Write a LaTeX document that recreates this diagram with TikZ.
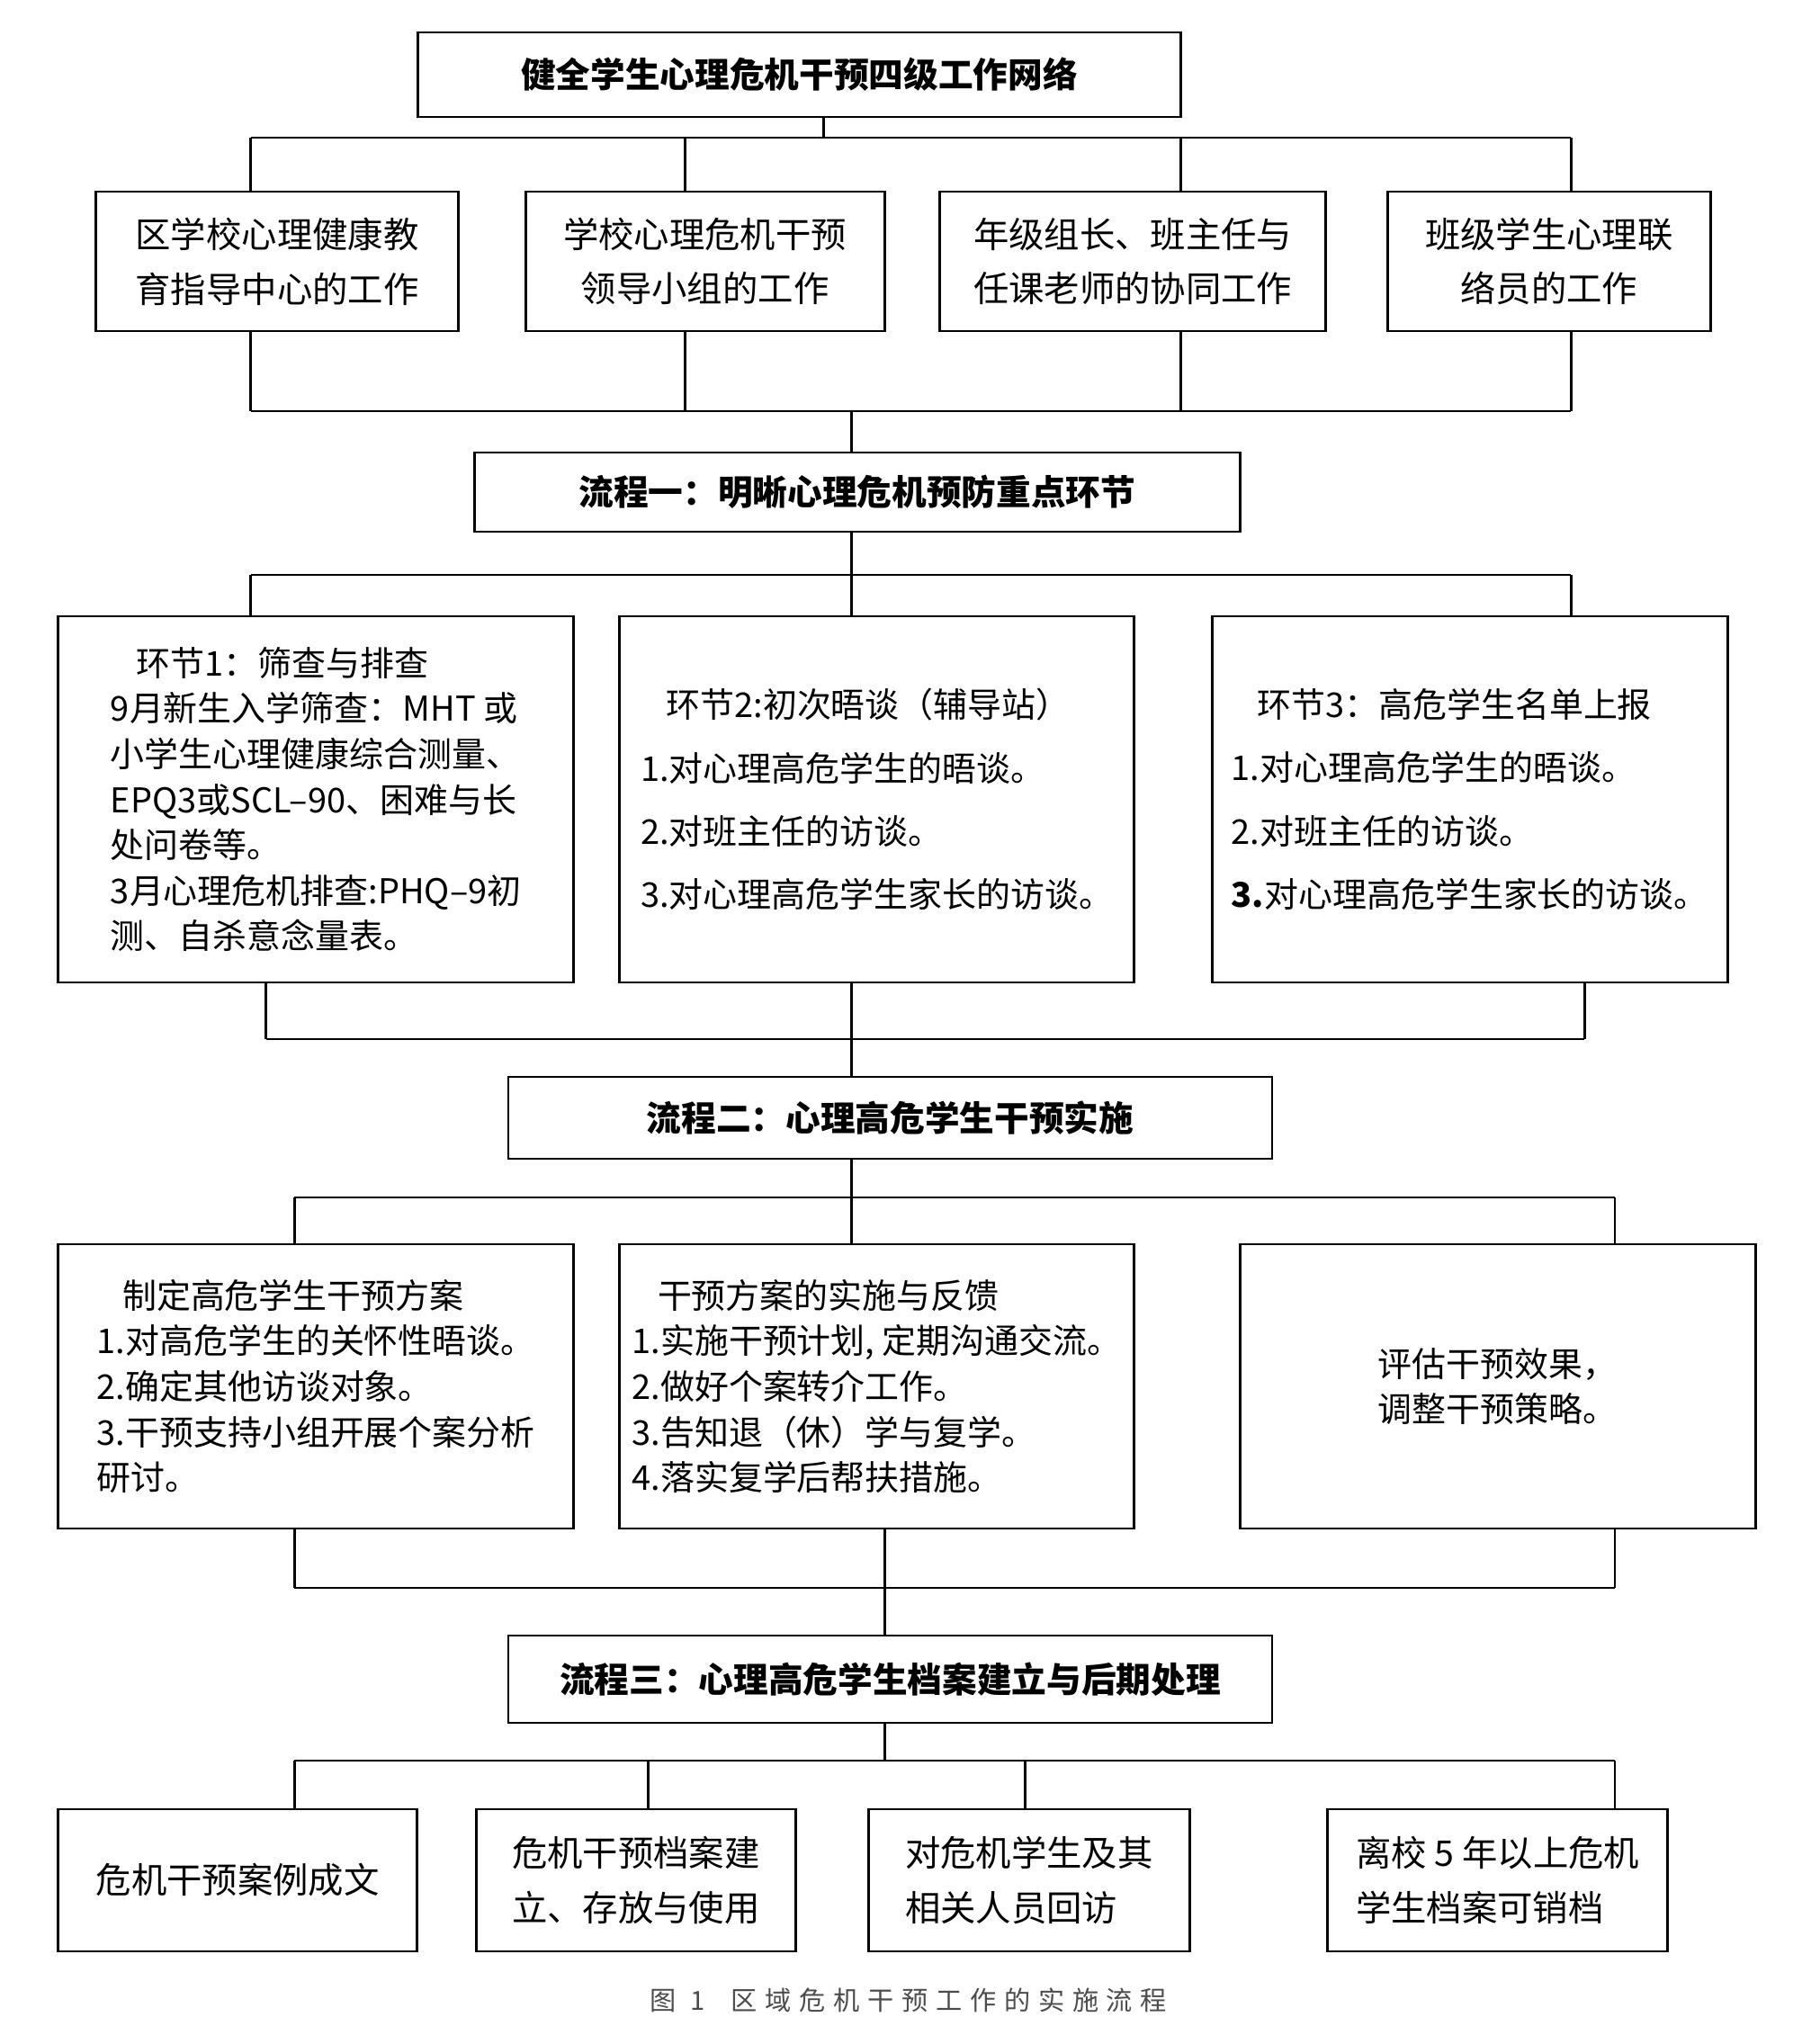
\documentclass[tikz,border=0pt]{standalone}
\usepackage{fontspec}
\setmainfont{Noto Sans CJK SC}
\newfontfamily\capfont[LetterSpace=30]{Noto Sans CJK SC}

\begin{document}
\begin{tikzpicture}[thick,
    head/.style={draw, align=center, inner sep=0pt, font=\fontsize{11}{13}\selectfont\bfseries},
    unit/.style={draw, align=center, inner sep=0pt, font=\fontsize{11.2}{17.3}\selectfont},
    tight/.style={draw, align=left, inner sep=0pt, font=\fontsize{10.8}{14.4}\selectfont},
    loose/.style={draw, align=left, inner sep=0pt, font=\fontsize{10.8}{20}\selectfont},
    archive/.style={draw, align=left, inner sep=0pt, font=\fontsize{11.2}{17.3}\selectfont}]

    \useasboundingbox (0,0) rectangle (20.12,-22.72);

    % --- Top Box ---
    \node[head, minimum width=8.48cm, minimum height=0.94cm] (net) at (8.885,-0.83) {健全学生心理危机干预四级工作网络};

    % --- Four Levels ---
    \node[unit, minimum width=4.03cm, minimum height=1.55cm] (district) at (3.080,-2.905) {区学校心理健康教\\育指导中心的工作};
    \node[unit, minimum width=3.99cm, minimum height=1.55cm] (leader) at (7.836,-2.905) {学校心理危机干预\\领导小组的工作};
    \node[unit, minimum width=4.29cm, minimum height=1.55cm] (teacher) at (12.592,-2.905) {年级组长、班主任与\\任课老师的协同工作};
    \node[unit, minimum width=3.59cm, minimum height=1.55cm] (liaison) at (17.218,-2.905) {班级学生心理联\\络员的工作};

    % --- Process One ---
    \node[head, minimum width=8.51cm, minimum height=0.88cm] (flowA) at (9.527,-5.47) {流程一：明晰心理危机预防重点环节};

    \node[tight, minimum width=5.73cm, minimum height=4.07cm] (screen) at (3.512,-8.885)
        {\hspace*{0.75em}环节1：筛查与排查\\
         9月新生入学筛查：MHT 或\\
         小学生心理健康综合测量、\\
         EPQ3或SCL–90、困难与长\\
         处问卷等。\\
         3月心理危机排查:PHQ–9初\\
         测、自杀意念量表。};
    \node[loose, minimum width=5.72cm, minimum height=4.07cm] (talk) at (9.746,-8.885)
        {\hspace*{0.75em}环节2:初次晤谈（辅导站）\\
         1.对心理高危学生的晤谈。\\
         2.对班主任的访谈。\\
         3.对心理高危学生家长的访谈。};
    \node[loose, minimum width=5.73cm, minimum height=4.07cm] (report) at (16.338,-8.885)
        {\hspace*{0.75em}环节3：高危学生名单上报\\
         1.对心理高危学生的晤谈。\\
         2.对班主任的访谈。\\
         {\bfseries 3.}对心理高危学生家长的访谈。};

    % --- Process Two ---
    \node[head, minimum width=8.49cm, minimum height=0.91cm] (flowB) at (9.895,-12.425) {流程二：心理高危学生干预实施};

    \node[tight, minimum width=5.73cm, minimum height=3.16cm] (plan) at (3.512,-15.41)
        {\hspace*{0.75em}制定高危学生干预方案\\
         1.对高危学生的关怀性晤谈。\\
         2.确定其他访谈对象。\\
         3.干预支持小组开展个案分析\\
         研讨。};
    \node[tight, minimum width=5.72cm, minimum height=3.16cm] (carry) at (9.746,-15.41)
        {\hspace*{0.75em}干预方案的实施与反馈\\
         1.实施干预计划, 定期沟通交流。\\
         2.做好个案转介工作。\\
         3.告知退（休）学与复学。\\
         4.落实复学后帮扶措施。};
    \node[tight, minimum width=5.73cm, minimum height=3.16cm] (assess) at (16.646,-15.41)
        {评估干预效果，\\调整干预策略。};

    % --- Process Three ---
    \node[head, minimum width=8.49cm, minimum height=0.97cm] (flowC) at (9.895,-18.665) {流程三：心理高危学生档案建立与后期处理};

    \node[archive, minimum width=3.99cm, minimum height=1.58cm] (case) at (2.642,-20.90) {危机干预案例成文};
    \node[archive, minimum width=3.55cm, minimum height=1.58cm] (store) at (7.069,-20.90) {危机干预档案建\\立、存放与使用};
    \node[archive, minimum width=3.57cm, minimum height=1.58cm] (visit) at (11.438,-20.90) {对危机学生及其\\相关人员回访};
    \node[archive, minimum width=3.78cm, minimum height=1.58cm] (purge) at (16.646,-20.90) {离校 5 年以上危机\\学生档案可销档};

    % --- Caption ---
    \node[font=\fontsize{8.3}{10}\selectfont\capfont, text=black!70] (caption) at (10.10,-22.23) {图 1\hspace{1em}区域危机干预工作的实施流程};

    % --- Junctions on the buses ---
    \coordinate (j1a) at (2.786,-1.53);  \coordinate (j1b) at (7.612,-1.53);
    \coordinate (j1c) at (13.124,-1.53); \coordinate (j1d) at (17.462,-1.53);
    \coordinate (j1m) at (9.154,-1.53);
    \coordinate (j2a) at (2.786,-4.57);  \coordinate (j2b) at (7.612,-4.57);
    \coordinate (j2c) at (13.124,-4.57); \coordinate (j2d) at (17.462,-4.57);
    \coordinate (j2m) at (9.462,-4.57);
    \coordinate (j3a) at (2.786,-6.39);  \coordinate (j3m) at (9.462,-6.39);
    \coordinate (j3d) at (17.462,-6.39);
    \coordinate (j4a) at (2.955,-11.55); \coordinate (j4m) at (9.462,-11.55);
    \coordinate (j4d) at (17.612,-11.55);
    \coordinate (j5a) at (3.274,-13.31); \coordinate (j5m) at (9.462,-13.31);
    \coordinate (j5d) at (17.950,-13.31);
    \coordinate (j6a) at (3.274,-17.65); \coordinate (j6m) at (9.831,-17.65);
    \coordinate (j6d) at (17.950,-17.65);
    \coordinate (j7a) at (3.274,-19.57); \coordinate (j7b) at (7.204,-19.57);
    \coordinate (j7c) at (11.393,-19.57); \coordinate (j7d) at (17.950,-19.57);
    \coordinate (j7m) at (9.831,-19.57);

    % --- Top box to the four levels ---
    \draw (net.south -| j1m) -- (j1m);
    \draw (j1a) -- (j1d);
    \draw (j1a) -- (district.north -| j1a);
    \draw (j1b) -- (leader.north -| j1b);
    \draw (j1c) -- (teacher.north -| j1c);
    \draw (j1d) -- (liaison.north -| j1d);

    % --- Four levels to process one ---
    \draw (district.south -| j2a) -- (j2a);
    \draw (leader.south -| j2b) -- (j2b);
    \draw (teacher.south -| j2c) -- (j2c);
    \draw (liaison.south -| j2d) -- (j2d);
    \draw (j2a) -- (j2d);
    \draw (j2m) -- (flowA.north -| j2m);

    % --- Process one to its three steps ---
    \draw (flowA.south -| j3m) -- (j3m);
    \draw (j3a) -- (j3d);
    \draw (j3a) -- (screen.north -| j3a);
    \draw (j3m) -- (talk.north -| j3m);
    \draw (j3d) -- (report.north -| j3d);

    % --- Steps to process two ---
    \draw (screen.south -| j4a) -- (j4a);
    \draw (talk.south -| j4m) -- (j4m);
    \draw (report.south -| j4d) -- (j4d);
    \draw (j4a) -- (j4d);
    \draw (j4m) -- (flowB.north -| j4m);

    % --- Process two to its three boxes ---
    \draw (flowB.south -| j5m) -- (j5m);
    \draw (j5a) -- (j5d);
    \draw (j5a) -- (plan.north -| j5a);
    \draw (j5m) -- (carry.north -| j5m);
    \draw (j5d) -- (assess.north -| j5d);

    % --- Boxes to process three ---
    \draw (plan.south -| j6a) -- (j6a);
    \draw (carry.south -| j6m) -- (j6m);
    \draw (assess.south -| j6d) -- (j6d);
    \draw (j6a) -- (j6d);
    \draw (j6m) -- (flowC.north -| j6m);

    % --- Process three to the archive boxes ---
    \draw (flowC.south -| j7m) -- (j7m);
    \draw (j7a) -- (j7d);
    \draw (j7a) -- (case.north -| j7a);
    \draw (j7b) -- (store.north -| j7b);
    \draw (j7c) -- (visit.north -| j7c);
    \draw (j7d) -- (purge.north -| j7d);

\end{tikzpicture}
\end{document}
